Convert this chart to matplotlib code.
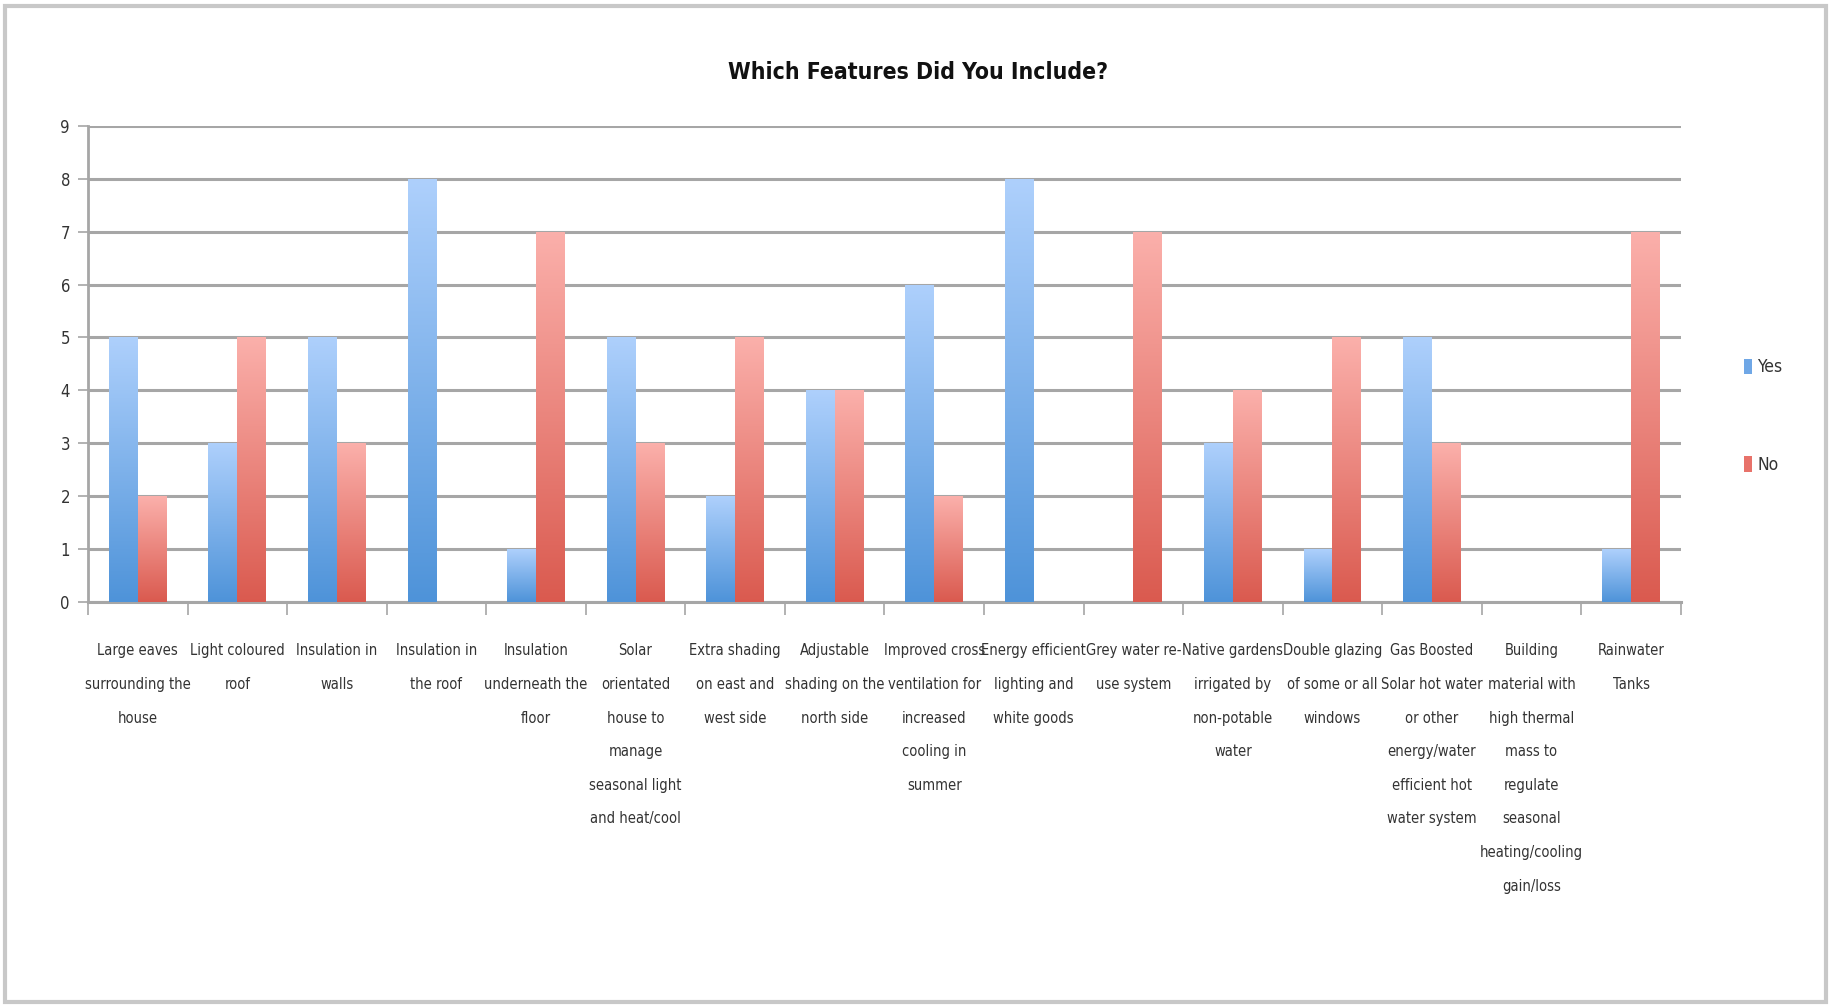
import numpy as np
import matplotlib.pyplot as plt
from matplotlib.colors import LinearSegmentedColormap
from matplotlib.patches import Rectangle, Patch

features = [
    "Large eaves\nsurrounding the\nhouse",
    "Light coloured\nroof",
    "Insulation in\nwalls",
    "Insulation in\nthe roof",
    "Insulation\nunderneath the\nfloor",
    "Solar\norientated\nhouse to\nmanage\nseasonal light\nand heat/cool",
    "Extra shading\non east and\nwest side",
    "Adjustable\nshading on the\nnorth side",
    "Improved cross\nventilation for\nincreased\ncooling in\nsummer",
    "Energy efficient\nlighting and\nwhite goods",
    "Grey water re-\nuse system",
    "Native gardens\nirrigated by\nnon-potable\nwater",
    "Double glazing\nof some or all\nwindows",
    "Gas Boosted\nSolar hot water\nor other\nenergy/water\nefficient hot\nwater system",
    "Building\nmaterial with\nhigh thermal\nmass to\nregulate\nseasonal\nheating/cooling\ngain/loss",
    "Rainwater\nTanks",
]
yes_counts = [5, 3, 5, 8, 1, 5, 2, 4, 6, 8, 0, 3, 1, 5, 0, 1]
no_counts = [2, 5, 3, 0, 7, 3, 5, 4, 2, 0, 7, 4, 5, 3, 0, 7]

plt.rcParams['font.family'] = ['DejaVu Sans']
plt.rcParams['font.stretch'] = 'condensed'

blue_cmap = LinearSegmentedColormap.from_list('blue', ['#4e93d9', '#aed0fc'])
red_cmap = LinearSegmentedColormap.from_list('red', ['#da5a4f', '#fbb0ab'])


def gradient_bars(ax, bars, cmap):
    """fill each bar with a vertical gradient, dark at the bottom"""
    grad = np.linspace(0, 1, 256).reshape(-1, 1)
    for b in bars:
        h = b.get_height()
        if h <= 0:
            continue
        x0 = b.get_x()
        im = ax.imshow(grad, cmap=cmap, aspect='auto', origin='lower',
                       extent=(x0, x0 + b.get_width(), 0, h), zorder=3)
        im.set_clip_path(b)
        b.set_facecolor('none')


fig = plt.figure(figsize=(18.33, 10.08), dpi=100)
ax = fig.add_axes([0.048, 0.403, 0.869, 0.472])

x = np.arange(len(features))
w = 0.29
bars_yes = ax.bar(x - w / 2, yes_counts, w, zorder=3, linewidth=0)
bars_no = ax.bar(x + w / 2, no_counts, w, zorder=3, linewidth=0)
gradient_bars(ax, bars_yes, blue_cmap)
gradient_bars(ax, bars_no, red_cmap)

ax.set_xlim(-0.5, len(features) - 0.5)
ax.set_ylim(0, 9)
ax.set_yticks(range(10))
ax.yaxis.grid(True, color='#a6a6a6', linewidth=2.2, zorder=0)
ax.set_axisbelow(True)

# category ticks sit between groups, labels in the middle
ax.set_xticks(np.arange(len(features) + 1) - 0.5)
ax.set_xticklabels([])
ax.set_xticks(x, minor=True)
ax.set_xticklabels(features, minor=True, fontsize=10.5, color='#333333',
                   linespacing=2.55)
ax.tick_params(axis='x', which='minor', length=0, pad=30)
ax.tick_params(axis='x', which='major', length=9, width=1.2, color='#a6a6a6')
ax.tick_params(axis='y', length=7, width=1.2, color='#a6a6a6', labelsize=12,
               labelcolor='#333333', pad=6)

for side in ['top', 'right']:
    ax.spines[side].set_visible(False)
ax.spines['left'].set_color('#a6a6a6')
ax.spines['left'].set_linewidth(2)
ax.spines['bottom'].set_color('#a6a6a6')
ax.spines['bottom'].set_linewidth(2.2)

fig.text(0.501, 0.928, 'Which Features Did You Include?', ha='center', va='center',
         fontsize=16.5, fontweight='bold', color='#111111')

handles = [Patch(facecolor='#6fa7e6', label='Yes'), Patch(facecolor='#e8726a', label='No')]
leg = ax.legend(handles=handles, loc='center left', bbox_to_anchor=(1.03, 0.39),
                frameon=False, handlelength=0.45, handleheight=1.0, handletextpad=0.3,
                labelspacing=4.6, fontsize=12.5)
for t in leg.get_texts():
    t.set_color('#333333')

# thin photo-style frame round the whole chart
fig.patches.append(Rectangle((0.003, 0.006), 0.993, 0.988, transform=fig.transFigure,
                             fill=False, edgecolor='#c8c8c8', linewidth=3))

fig.savefig('out.png', dpi=100, facecolor='white')
